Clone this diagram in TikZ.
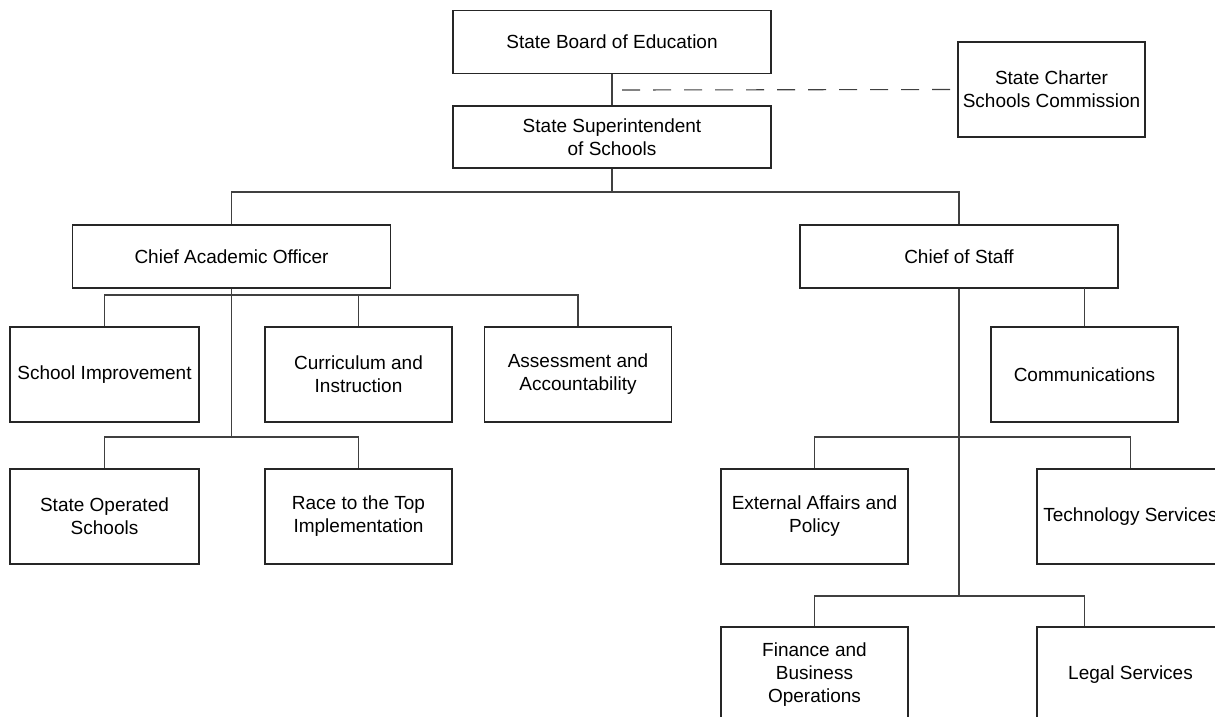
\documentclass[tikz,border=0pt]{standalone}
\usepackage{fontspec}
\setmainfont{Liberation Sans}

\begin{document}
\begin{tikzpicture}[x=1pt, y=-1pt,
  every node/.style={font=\fontsize{19}{23}\selectfont, align=center, inner sep=1pt},
  box/.style={draw=black!85, line width=1.3pt, minimum width=187pt, minimum height=95pt},
  widebox/.style={draw=black!85, line width=1.3pt, minimum width=318pt, minimum height=63pt},
  link/.style={draw=black!75, line width=1.1pt}]
  \clip (0,0) rectangle (1215,717);
  \fill[white] (0,0) rectangle (1215,717);

  \node[widebox] (board) at (612,42) {State Board of Education};
  \node[widebox, minimum height=62pt] (super) at (612,137) {State Superintendent\\of Schools};
  \node[box] (charter) at (1051.5,89.5) {State Charter\\Schools Commission};

  \node[widebox] (cao) at (231.5,256.5) {Chief Academic Officer};
  \node[widebox] (cos) at (959,256.5) {Chief of Staff};

  \node[box, minimum width=189pt] (schimp) at (104.5,374.5) {School Improvement};
  \node[box] (curric) at (358.5,374.5) {Curriculum and\\Instruction};
  \node[box] (assess) at (578,374.5) {Assessment and\\Accountability};
  \node[box, minimum width=189pt] (stateop) at (104.5,516.5) {State Operated\\Schools};
  \node[box] (race) at (358.5,516.5) {Race to the Top\\Implementation};

  \node[box] (comm) at (1084.5,374.5) {Communications};
  \node[box] (extaff) at (814.5,516.5) {External Affairs and\\Policy};
  \node[box] (tech) at (1130.5,516.5) {Technology Services};
  \node[box] (finance) at (814.5,674.5) {Finance and\\Business\\Operations};
  \node[box] (legal) at (1130.5,674.5) {Legal Services};

  \coordinate (dashstart) at (622,90);
  \coordinate (topsplit) at (612,192);
  \coordinate (caosplit) at (231.5,295);
  \coordinate (caolow) at (231.5,437);
  \coordinate (cossplit) at (959,437);
  \coordinate (coslow) at (959,596);
  \coordinate (commtop) at (1084.5,288);
  \coordinate (legaltop) at (1084.5,596);

  \draw[link] (board.south) -- (super.north);
  \draw[link, dash pattern=on 18pt off 13pt] (dashstart) -- (charter.west);
  \draw[link] (super.south) -- (topsplit);
  \draw[link] (topsplit) -| (cao.north);
  \draw[link] (topsplit) -| (cos.north);

  \draw[link] (cao.south) -- (caolow);
  \draw[link] (caosplit) -| (schimp.north);
  \draw[link] (caosplit) -| (curric.north);
  \draw[link] (caosplit) -| (assess.north);
  \draw[link] (caolow) -| (stateop.north);
  \draw[link] (caolow) -| (race.north);

  \draw[link] (cos.south) -- (coslow);
  \draw[link] (commtop) -- (comm.north);
  \draw[link] (cossplit) -| (extaff.north);
  \draw[link] (cossplit) -| (tech.north);
  \draw[link] (coslow) -| (finance.north);
  \draw[link] (coslow) -- (legaltop) -- (legaltop |- legal.north);
\end{tikzpicture}
\end{document}
